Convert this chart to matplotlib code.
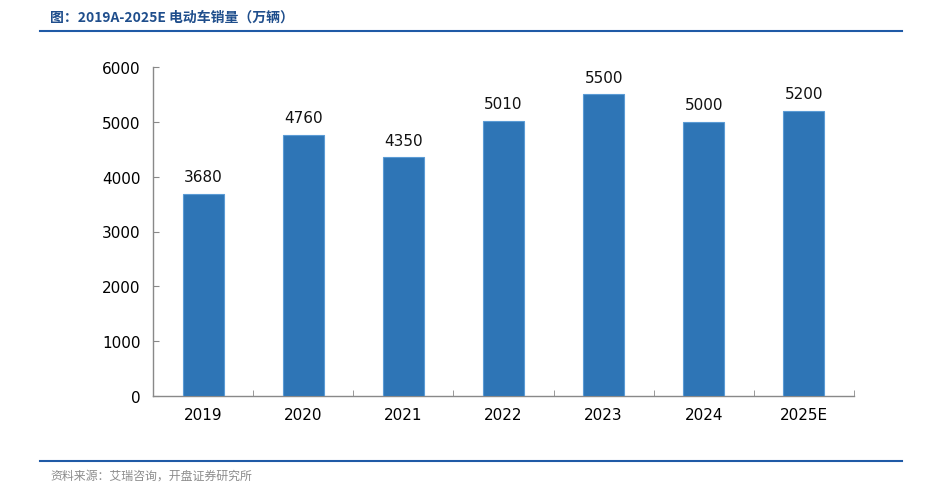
import matplotlib.pyplot as plt
import numpy as np

years = ['2019', '2020', '2021', '2022', '2023', '2024', '2025E']
sales = [3680, 4760, 4350, 5010, 5500, 5000, 5200]
yticks = [0, 1000, 2000, 3000, 4000, 5000, 6000]

plt.rcParams['font.family'] = ['DejaVu Sans', 'Noto Sans CJK SC']

fig = plt.figure(figsize=(9.25, 4.85), dpi=100)
ax = fig.add_axes([153 / 925, 1 - 397 / 485, 701 / 925, 329 / 485])

x = np.arange(len(years))
ax.bar(x, sales, width=0.41, color='#2E75B6', edgecolor='#5B9BD5', linewidth=0.8, zorder=3)
for xi, v in zip(x, sales):
    ax.text(xi, v + 180, str(v), ha='center', va='bottom', fontsize=11, color='#111111')

ax.set_xlim(-0.5, len(years) - 0.5)
ax.set_ylim(0, 6000)
ax.set_yticks(yticks)
ax.set_yticklabels([str(t) for t in yticks], fontsize=11)
ax.set_xticks(x)
ax.set_xticklabels(years, fontsize=11)
ax.set_xticks(np.arange(-0.5, len(years)), minor=True)
ax.tick_params(axis='x', which='major', length=0, pad=8)
ax.tick_params(axis='x', which='minor', length=4, color='#898989', direction='in')
ax.tick_params(axis='y', length=4, color='#898989', direction='in', pad=9)

for s in ['top', 'right']:
    ax.spines[s].set_visible(False)
for s in ['left', 'bottom']:
    ax.spines[s].set_color('#898989')
    ax.spines[s].set_linewidth(1)

# header and footer
fig.text(50 / 925, 1 - 18 / 485, '图：2019A-2025E 电动车销量（万辆）', fontsize=10,
         color='#1F4E8C', fontweight='bold', va='center', ha='left',
         family=['Noto Sans CJK SC', 'DejaVu Sans'])
fig.add_artist(plt.Line2D([40 / 925, 902 / 925], [1 - 32 / 485, 1 - 32 / 485],
                          color='#1F5AA6', linewidth=1.5))
fig.add_artist(plt.Line2D([40 / 925, 902 / 925], [1 - 462 / 485, 1 - 462 / 485],
                          color='#1F5AA6', linewidth=1.5))
fig.text(50 / 925, 1 - 476 / 485, '资料来源：艾瑞咨询，开盘证券研究所', fontsize=8.6,
         color='#8C8C8C', style='italic', va='center', ha='left',
         family=['Noto Sans CJK SC', 'DejaVu Sans'])

fig.savefig('out.png', dpi=100)
